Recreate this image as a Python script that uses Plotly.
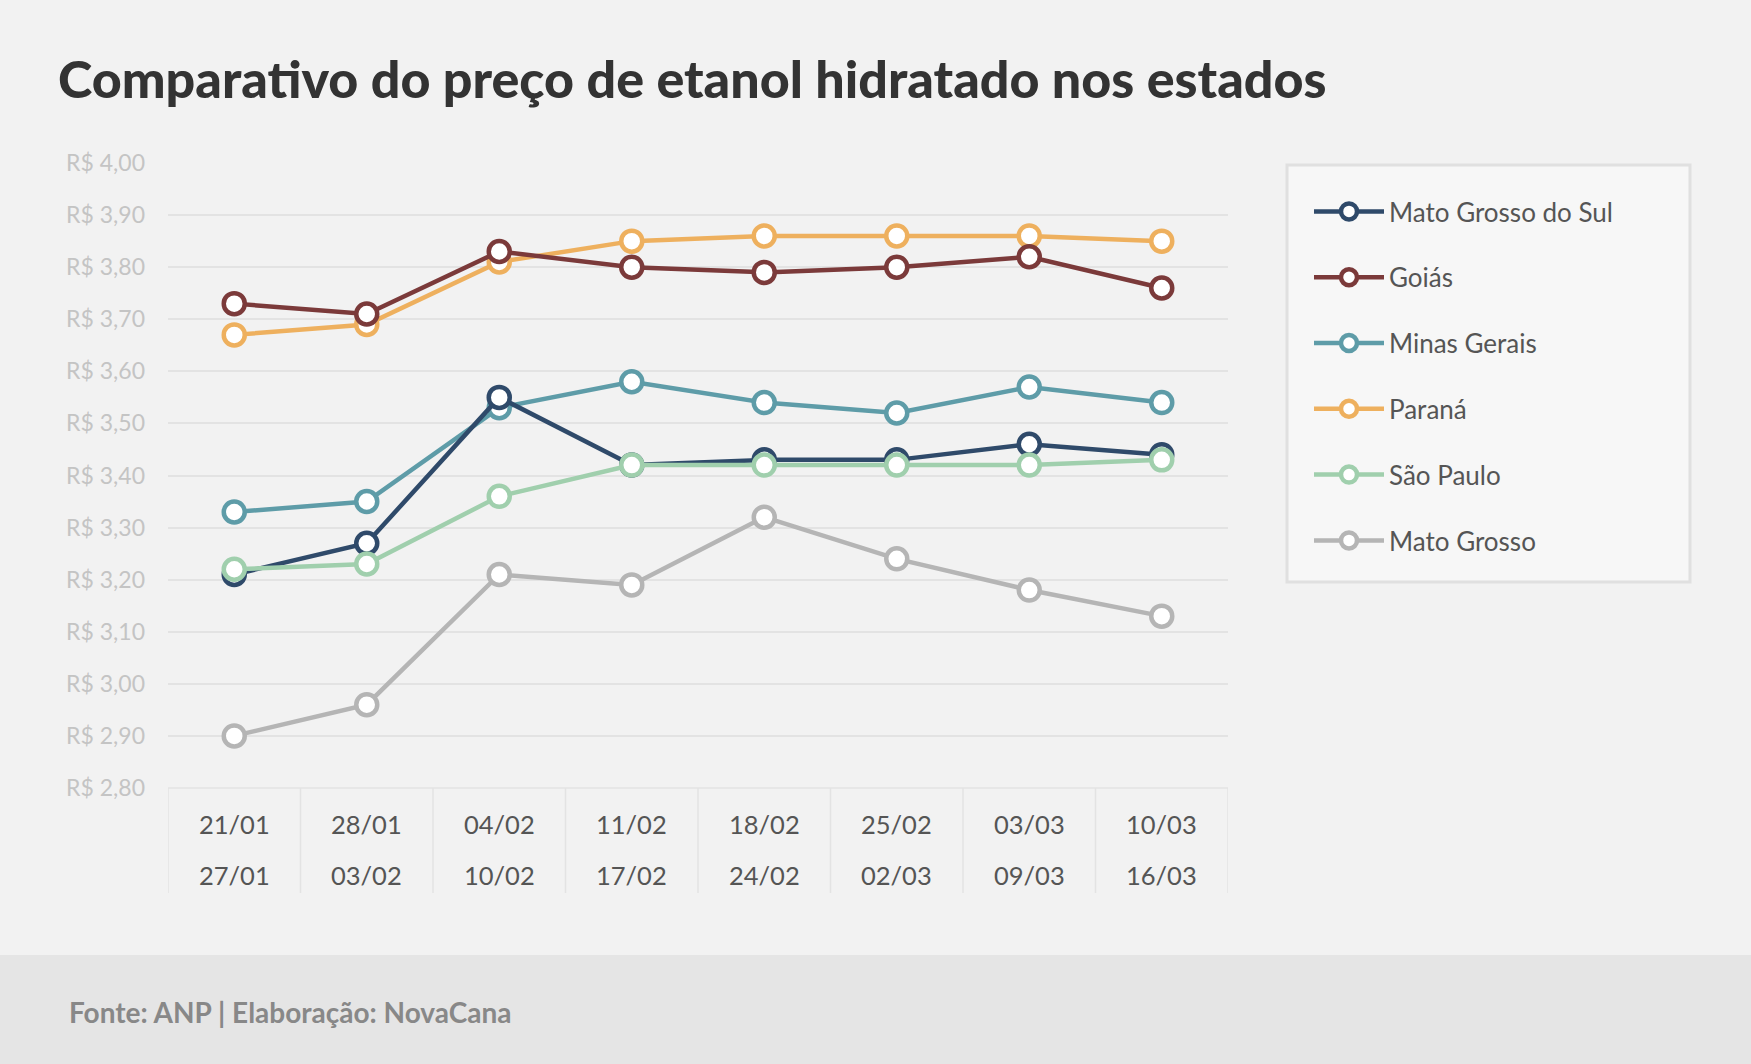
import plotly.graph_objects as go

# ---- data ----
week_start = ["21/01", "28/01", "04/02", "11/02", "18/02", "25/02", "03/03", "10/03"]
week_end = ["27/01", "03/02", "10/02", "17/02", "24/02", "02/03", "09/03", "16/03"]

mato_grosso_do_sul = [3.21, 3.27, 3.55, 3.42, 3.43, 3.43, 3.46, 3.44]
goias = [3.73, 3.71, 3.83, 3.80, 3.79, 3.80, 3.82, 3.76]
minas_gerais = [3.33, 3.35, 3.53, 3.58, 3.54, 3.52, 3.57, 3.54]
parana = [3.67, 3.69, 3.81, 3.85, 3.86, 3.86, 3.86, 3.85]
sao_paulo = [3.22, 3.23, 3.36, 3.42, 3.42, 3.42, 3.42, 3.43]
mato_grosso = [2.90, 2.96, 3.21, 3.19, 3.32, 3.24, 3.18, 3.13]

y_tickvals = [2.8, 2.9, 3.0, 3.1, 3.2, 3.3, 3.4, 3.5, 3.6, 3.7, 3.8, 3.9, 4.0]
y_ticktext = ["R$ 2,80", "R$ 2,90", "R$ 3,00", "R$ 3,10", "R$ 3,20", "R$ 3,30",
              "R$ 3,40", "R$ 3,50", "R$ 3,60", "R$ 3,70", "R$ 3,80", "R$ 3,90", "R$ 4,00"]

# (name, values, color, legend rank) in drawing order
series = [
    ("Paraná", parana, "#EEB05E", 4),
    ("Goiás", goias, "#7B3A3A", 2),
    ("Minas Gerais", minas_gerais, "#5E9CA8", 3),
    ("Mato Grosso do Sul", mato_grosso_do_sul, "#2F4A6A", 1),
    ("São Paulo", sao_paulo, "#A0CFAD", 5),
    ("Mato Grosso", mato_grosso, "#B5B5B5", 6),
]

W, H = 1751, 1064
L, R, T, B = 168, 523, 163, 276
PW, PH = W - L - R, H - T - B

def px_x(px):
    return (px - L) / PW

def px_y(py):
    return (H - B - py) / PH

xs = list(range(len(week_start)))

fig = go.Figure()
for name, vals, color, rank in series:
    fig.add_trace(go.Scatter(
        x=xs, y=vals, name=name, mode="lines+markers",
        line=dict(color=color, width=4.5),
        marker=dict(size=21, color="white", line=dict(color=color, width=4.5)),
        legendrank=rank, legendgroup=name,
    ))

shapes = []
# footer band
shapes.append(dict(type="rect", xref="paper", yref="paper",
                   x0=px_x(-5), x1=px_x(W + 5), y0=px_y(H + 5), y1=px_y(955),
                   fillcolor="#E5E5E5", line=dict(width=0), layer="below"))
# legend box
shapes.append(dict(type="rect", xref="paper", yref="paper",
                   x0=px_x(1287), x1=px_x(1690), y0=px_y(582), y1=px_y(165),
                   fillcolor="#F7F7F7", line=dict(color="#E0E0E0", width=3), layer="below"))
# x-axis table separators
for i in range(len(xs) + 1):
    shapes.append(dict(type="line", xref="x", yref="paper",
                       x0=i - 0.5, x1=i - 0.5, y0=px_y(893), y1=0,
                       line=dict(color="#E3E3E3", width=1.5), layer="below"))
shapes.append(dict(type="line", xref="paper", yref="paper", x0=0, x1=1, y0=0, y1=0,
                   line=dict(color="#E3E3E3", width=1.5), layer="below"))

annotations = []
for i, (a, b) in enumerate(zip(week_start, week_end)):
    annotations.append(dict(x=i, y=px_y(824), xref="x", yref="paper", text=a,
                            showarrow=False, yanchor="middle",
                            font=dict(family="Lato", size=25.5, color="#555555")))
    annotations.append(dict(x=i, y=px_y(875), xref="x", yref="paper", text=b,
                            showarrow=False, yanchor="middle",
                            font=dict(family="Lato", size=25.5, color="#555555")))
annotations.append(dict(x=px_x(67), y=px_y(1012), xref="paper", yref="paper",
                        text="Fonte: ANP | Elaboração: NovaCana", showarrow=False,
                        xanchor="left", yanchor="middle",
                        font=dict(family="Lato", size=28, color="#888888", weight="bold")))

fig.update_layout(
    width=W, height=H,
    paper_bgcolor="#F2F2F2", plot_bgcolor="#F2F2F2",
    margin=dict(l=L, r=R, t=T, b=B, pad=0),
    title=dict(text="Comparativo do preço de etanol hidratado nos estados",
               x=58 / W, xanchor="left", xref="container",
               y=1 - 80 / H, yanchor="middle", yref="container",
               font=dict(family="Lato", size=52, color="#333333", weight=900)),
    xaxis=dict(range=[-0.5, len(xs) - 0.5], showgrid=False, zeroline=False,
               showticklabels=False, showline=False, fixedrange=True),
    yaxis=dict(range=[2.8, 4.0], tickvals=y_tickvals, ticktext=y_ticktext,
               showgrid=True, gridcolor="#E3E3E3", gridwidth=1.5, zeroline=False,
               showline=False, ticks="", ticklabelstandoff=22,
               tickfont=dict(family="Lato", size=23, color="#C4C4C4")),
    legend=dict(x=px_x(1309), y=px_y(188), xanchor="left", yanchor="top",
                bgcolor="rgba(0,0,0,0)", borderwidth=0,
                traceorder="grouped", tracegroupgap=29, itemwidth=70,
                font=dict(family="Lato", size=26, color="#555555")),
    shapes=shapes, annotations=annotations,
    showlegend=True,
)

fig.write_html("out.html")
